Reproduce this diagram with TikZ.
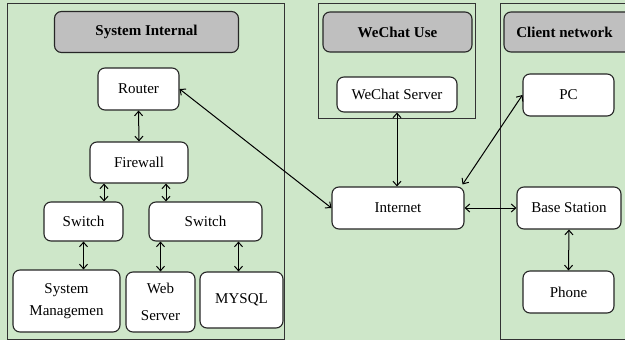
\documentclass[tikz,border=0pt]{standalone}
\usepackage{fontspec}
\setmainfont{Liberation Serif}
\usetikzlibrary{arrows.meta}
\definecolor{bggreen}{RGB}{206,231,201}
\definecolor{headgray}{RGB}{191,191,191}
\begin{document}
\begin{tikzpicture}[x=1pt,y=-1pt,>={Straight Barb[length=4.5pt,width=8pt]},
  panel/.style={draw=black!80,line width=1pt},
  head/.style={draw=black!85,line width=1.1pt,fill=headgray,rounded corners=7pt,
    font=\fontsize{15}{17}\selectfont\bfseries},
  box/.style={draw=black!85,line width=1.1pt,fill=white,rounded corners=7pt,
    font=\fontsize{15}{22}\selectfont,align=center,inner sep=0pt},
  link/.style={<->,line width=1pt}]
\useasboundingbox (0,0) rectangle (625,340);
\clip (0,0) rectangle (625,340);
\fill[bggreen] (0,0) rectangle (625,340);
% panels
\draw[panel] (7,3) rectangle (284,339);
\draw[panel] (318,3) rectangle (475,118);
\draw[panel] (500,3) rectangle (640,339);
% headers
\node[head,minimum width=184pt,minimum height=41pt] (sysint) at (146.5,32) {System Internal};
\node[head,minimum width=149pt,minimum height=40pt] (wechat) at (397.5,32) {WeChat Use};
\node[head,minimum width=140pt,minimum height=40pt] (client) at (574,32) {\hspace*{-19pt}Client network};
% system internal
\node[box,minimum width=81pt,minimum height=42pt] (router) at (138.5,89) {Router};
\node[box,minimum width=98pt,minimum height=41pt] (firewall) at (139,162.5) {Firewall};
\node[box,minimum width=79pt,minimum height=39pt] (swa) at (83.5,221.5) {Switch};
\node[box,minimum width=113pt,minimum height=39pt] (swb) at (205.5,221.5) {Switch};
\node[box,minimum width=107pt,minimum height=62pt] (mgmt) at (66.5,301) {System\\Managemen};
\node[box,minimum width=69pt,minimum height=60pt] (web) at (160.5,302) {Web\\[5pt]Server};
\node[box,minimum width=83pt,minimum height=56pt] (mysql) at (241.5,300) {MYSQL};
% wechat and internet
\node[box,minimum width=120pt,minimum height=35pt] (wxserver) at (397,94.5) {WeChat Server};
\node[box,minimum width=132pt,minimum height=42pt] (internet) at (398,208) {Internet};
% client network
\node[box,minimum width=91pt,minimum height=42pt] (pc) at (568.5,95) {PC};
\node[box,minimum width=104pt,minimum height=42pt] (base) at (569,208) {Base Station};
\node[box,minimum width=91pt,minimum height=42pt] (phone) at (568.5,292) {Phone};
% connectors
\draw[link] (router.south) -- (firewall.north);
\draw[link] ([xshift=-35pt]firewall.south) -- ([xshift=-35pt]firewall.south |- swa.north);
\draw[link] ([xshift=27pt]firewall.south) -- ([xshift=27pt]firewall.south |- swb.north);
\draw[link] (swa.south) -- (swa.south |- mgmt.north);
\draw[link] (web.north |- swb.south) -- (web.north);
\draw[link] ([xshift=-3pt]mysql.north |- swb.south) -- ([xshift=-3pt]mysql.north);
\draw[link] (router.east) -- (internet.west);
\draw[link] (wxserver.south) -- (wxserver.south |- internet.north);
\draw[link] (pc.west) -- ([xshift=-2pt,yshift=2pt]internet.north east);
\draw[link] (internet.east) -- (base.west);
\draw[link] (base.south) -- (phone.north);
\end{tikzpicture}
\end{document}
